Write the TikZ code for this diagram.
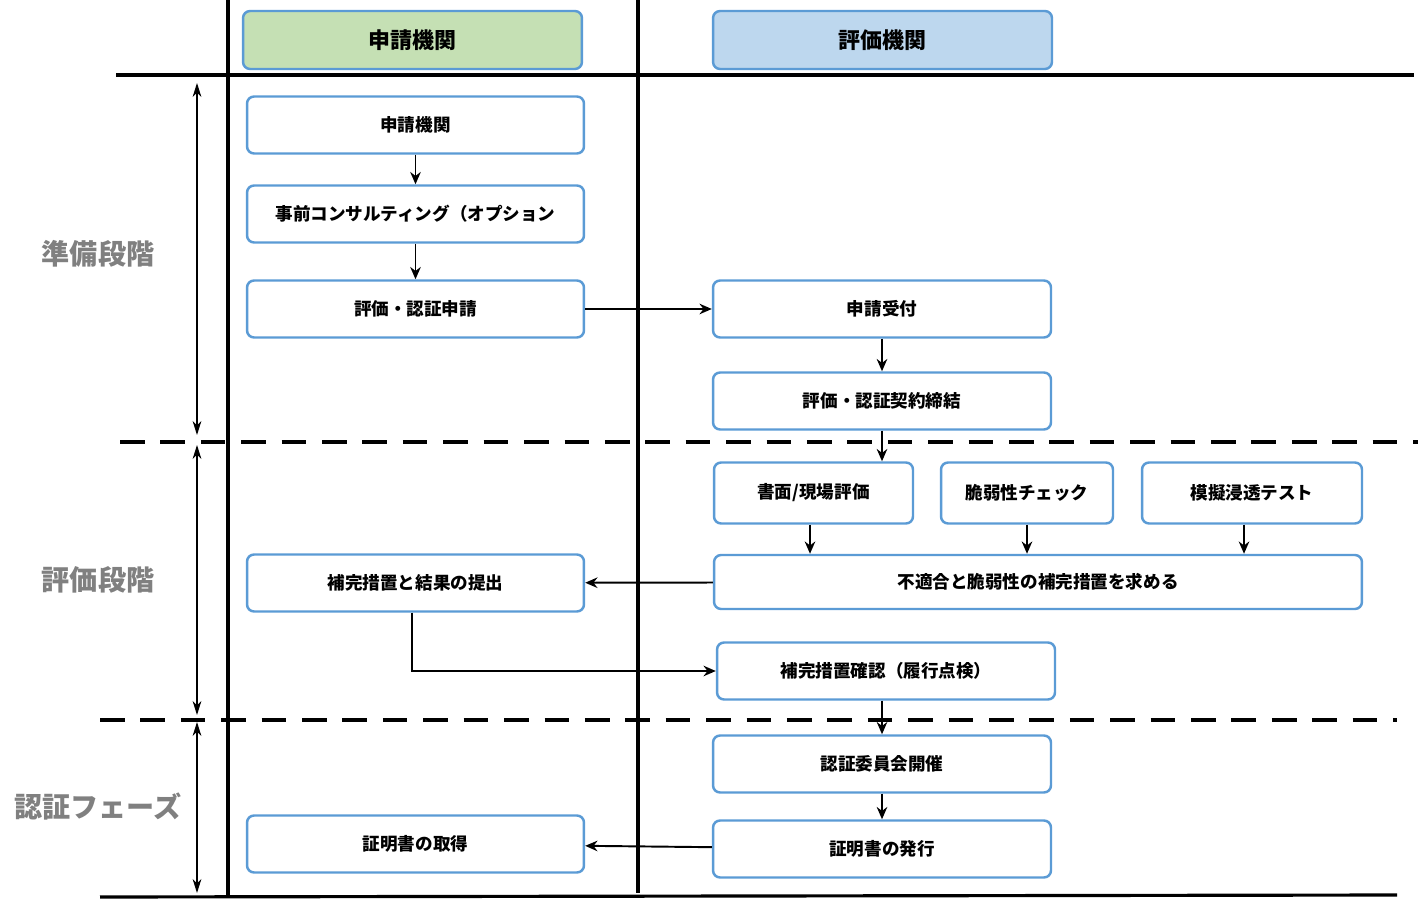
\documentclass[tikz,border=0pt]{standalone}
\usepackage{fontspec}
\setmainfont{Noto Sans CJK JP}
\usetikzlibrary{arrows.meta,positioning}
\definecolor{boxblue}{RGB}{91,155,213}
\definecolor{headgreen}{RGB}{197,224,180}
\definecolor{headblue}{RGB}{189,215,238}
\definecolor{phasegray}{RGB}{128,128,128}
\tikzset{
  stepbox/.style={draw=boxblue, line width=1.4pt, rounded corners=4pt, fill=white,
    minimum height=1.14cm, font=\bfseries\fontsize{10}{12}\selectfont, inner sep=0pt},
  head/.style={stepbox, minimum height=1.16cm, font=\bfseries\fontsize{12.5}{14}\selectfont},
  flow/.style={-{Stealth[length=7pt,width=6pt]}, line width=1.1pt},
  span/.style={{Stealth[length=8pt,width=5pt]}-{Stealth[length=8pt,width=5pt]}, line width=0.6pt},
  phase/.style={text=phasegray, font=\bfseries\fontsize{16}{18}\selectfont},
  rule/.style={line width=1.8pt},
}
\begin{document}
\begin{tikzpicture}[x=0.02cm,y=-0.02cm]
    \useasboundingbox (0,0) rectangle (1422,908);
    % Lanes and phase lines
    \draw[rule] (116,75) -- (1414,75);
    \draw[rule] (228,0) -- (228,898);
    \draw[rule] (638,0) -- (638,893);
    \draw[rule] (100,897) -- (1397,895);
    \draw[rule, dash pattern=on 14pt off 9pt] (120,442) -- (1418,442);
    \draw[rule, dash pattern=on 14pt off 9pt] (100,720) -- (1397,720);

    % Headers
    \node[head, fill=headgreen, minimum width=6.78cm] (hApp) at (412.5,40) {申請機関};
    \node[head, fill=headblue, minimum width=6.78cm] (hEval) at (882.5,40) {評価機関};

    % Phases
    \node[phase] (pPrep) at (98,254) {準備段階};
    \node[phase] (pEval) at (98,580) {評価段階};
    \node[phase] (pCert) at (98,807) {認証フェーズ};
    \draw[span] (197,83) -- (197,435);
    \draw[span] (197,445) -- (197,715);
    \draw[span] (197,722) -- (197,893);

    % Applicant side
    \node[stepbox, minimum width=6.74cm] (aOrg) at (415.5,125) {申請機関};
    \node[stepbox, minimum width=6.74cm] (aPre) at (415.5,214) {事前コンサルティング（オプション};
    \node[stepbox, minimum width=6.74cm] (aApply) at (415.5,309) {評価・認証申請};
    \node[stepbox, minimum width=6.74cm] (aFix) at (415.5,583) {補完措置と結果の提出};
    \node[stepbox, minimum width=6.74cm] (aGet) at (415.5,844) {証明書の取得};

    % Evaluator side
    \node[stepbox, minimum width=6.76cm] (eRecv) at (882,309) {申請受付};
    \node[stepbox, minimum width=6.76cm] (eContract) at (882,401) {評価・認証契約締結};
    \node[stepbox, minimum width=3.98cm, minimum height=1.22cm] (eDoc) at (813.5,493) {書面/現場評価};
    \node[stepbox, minimum width=3.44cm, minimum height=1.22cm] (eVuln) at (1027,493) {脆弱性チェック};
    \node[stepbox, minimum width=4.40cm, minimum height=1.22cm] (ePen) at (1252,493) {模擬浸透テスト};
    \node[stepbox, minimum width=12.96cm, minimum height=1.08cm] (eReq) at (1038,582) {不適合と脆弱性の補完措置を求める};
    \node[stepbox, minimum width=6.76cm] (eCheck) at (886,671) {補完措置確認（履行点検）};
    \node[stepbox, minimum width=6.76cm] (eBoard) at (882,764) {認証委員会開催};
    \node[stepbox, minimum width=6.76cm] (eIssue) at (882,849) {証明書の発行};

    % Flow
    \draw[flow] (aOrg) -- (aPre);
    \draw[flow] (aPre) -- (aApply);
    \draw[flow] (aApply) -- (eRecv);
    \draw[flow] (eRecv) -- (eContract);
    \draw[flow] (eContract.south) -- (eContract.south |- eDoc.north);
    \draw[flow] (eDoc.south -| 810,0) -- (eReq.north -| 810,0);
    \draw[flow] (eVuln) -- (eVuln |- eReq.north);
    \draw[flow] (ePen.south -| 1244,0) -- (eReq.north -| 1244,0);
    \draw[flow] (eReq) -- (aFix);
    \draw[flow] (aFix.south -| 412,0) |- (eCheck.west);
    \draw[flow] (eCheck.south -| eBoard) -- (eBoard);
    \draw[flow] (eBoard) -- (eIssue);
    \draw[flow] (eIssue) -- (aGet);
\end{tikzpicture}
\end{document}
